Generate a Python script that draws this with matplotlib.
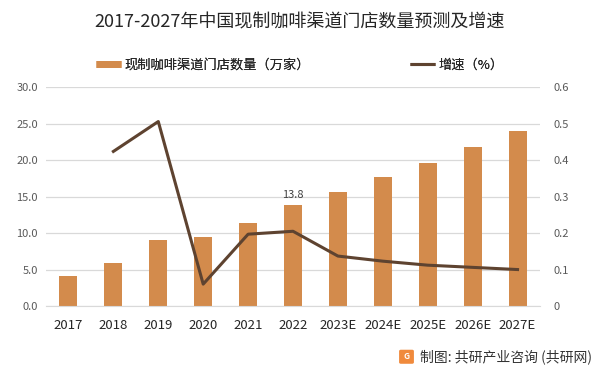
import matplotlib.pyplot as plt
from matplotlib.lines import Line2D
from matplotlib.patches import FancyBboxPatch

plt.rcParams['font.family'] = ['Noto Sans CJK SC', 'DejaVu Sans']

# data
years = ["2017", "2018", "2019", "2020", "2021", "2022",
         "2023E", "2024E", "2025E", "2026E", "2027E"]
stores = [4.1, 5.9, 9.0, 9.5, 11.4, 13.8, 15.6, 17.7, 19.6, 21.8, 24.0]
growth = [None, 0.424, 0.506, 0.06, 0.197, 0.205, 0.137, 0.123, 0.112, 0.106, 0.10]

bar_color = '#D38B4C'
line_color = '#5E4330'
tick_color = '#595959'

fig = plt.figure(figsize=(6, 3.72), dpi=100)
ax = fig.add_axes([0.0767, 0.1774, 0.8233, 0.588])
x = list(range(len(years)))

ax.bar(x, stores, width=0.4, color=bar_color, zorder=2)
ax.set_ylim(0, 30)
ax.set_xlim(-0.5, len(years) - 0.5)
ax.set_yticks([0, 5, 10, 15, 20, 25, 30])
ax.set_yticklabels([f'{v:.1f}' for v in [0, 5, 10, 15, 20, 25, 30]])
ax.set_xticks(x)
ax.set_xticklabels(years)
ax.grid(axis='y', color='#D9D9D9', linewidth=0.9, zorder=0)
ax.set_axisbelow(True)
for s in ['top', 'right', 'left']:
    ax.spines[s].set_visible(False)
ax.spines['bottom'].set_color('#D9D9D9')
ax.tick_params(axis='y', length=0, labelsize=8, colors=tick_color, pad=6)
ax.tick_params(axis='x', length=0, labelsize=9.5, colors='#262626', pad=9)

# label only 2022
ax.annotate(f'{stores[5]:.1f}', (x[5], stores[5]), xytext=(0, 4),
            textcoords='offset points', ha='center', va='bottom',
            fontsize=8, color='#404040')

ax2 = ax.twinx()
gx = [xi for xi, g in zip(x, growth) if g is not None]
gy = [g for g in growth if g is not None]
ax2.plot(gx, gy, color=line_color, linewidth=2.2, zorder=3)
ax2.set_ylim(0, 0.6)
ax2.set_yticks([0, 0.1, 0.2, 0.3, 0.4, 0.5, 0.6])
ax2.set_yticklabels(['0', '0.1', '0.2', '0.3', '0.4', '0.5', '0.6'])
for s in ['top', 'right', 'left', 'bottom']:
    ax2.spines[s].set_visible(False)
ax2.tick_params(axis='y', length=0, labelsize=8, colors=tick_color, pad=10)

fig.text(0.5, 0.94, '2017-2027年中国现制咖啡渠道门店数量预测及增速',
         ha='center', va='center', fontsize=13, color='#262626')

# legends
bar_handle = Line2D([], [], color=bar_color, linewidth=5, solid_capstyle='butt')
line_handle = Line2D([], [], color=line_color, linewidth=2.2, solid_capstyle='butt')
leg_y = 1 - 65 / 372
for h, lab, lx in [(bar_handle, '现制咖啡渠道门店数量（万家）', 96 / 600),
                   (line_handle, '增速（%）', 410 / 600)]:
    lg = fig.legend(handles=[h], labels=[lab], loc='center left',
                    bbox_to_anchor=(lx, leg_y), frameon=False, fontsize=9.5,
                    handlelength=1.9, handletextpad=0.25, borderpad=0,
                    borderaxespad=0, labelcolor='#262626')
    fig.add_artist(lg)

# footer
logo = FancyBboxPatch((401 / 600, 0.026), 11 / 600, 0.03,
                      boxstyle='round,pad=0.002',
                      transform=fig.transFigure, color='#F08A3C')
fig.patches.append(logo)
fig.text(406.5 / 600, 0.041, 'G', ha='center', va='center', fontsize=6,
         color='white', weight='bold')
fig.text(420 / 600, 0.041, '制图: 共研产业咨询 (共研网)', ha='left', va='center',
         fontsize=10, color='#333333')

fig.savefig('out.png', dpi=100)
